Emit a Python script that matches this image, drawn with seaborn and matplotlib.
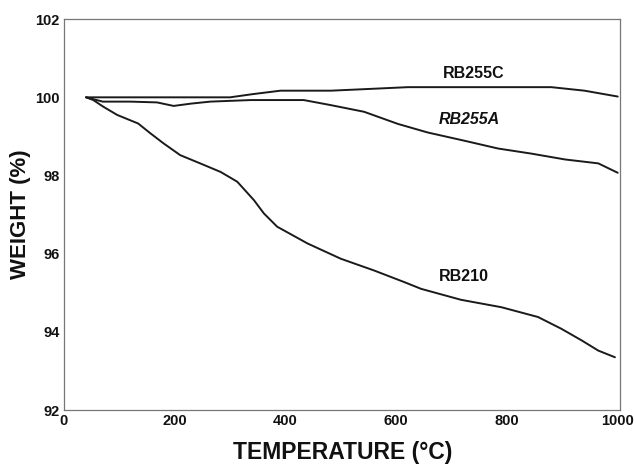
import matplotlib
matplotlib.use("Agg")
import matplotlib.pyplot as plt
from matplotlib.ticker import MultipleLocator
import seaborn as sns
import pandas as pd

# --- data ---
t_255c = [40, 100, 200, 300, 340, 391, 482, 560, 621, 700, 800, 880, 940, 1000]
w_255c = [100.0, 100.0, 100.0, 100.0, 100.08, 100.17, 100.17, 100.22, 100.26, 100.26, 100.26, 100.26, 100.17, 100.02]

t_255a = [40, 70, 120, 168, 198, 230, 264, 337, 433, 482, 542, 603, 657, 723, 784, 844, 905, 965, 1000]
w_255a = [100.0, 99.89, 99.89, 99.87, 99.78, 99.84, 99.89, 99.93, 99.93, 99.80, 99.63, 99.32, 99.10, 98.89, 98.69, 98.56, 98.41, 98.31, 98.07]

t_210 = [40, 53, 71, 96, 134, 156, 180, 210, 246, 283, 313, 343, 361, 385, 440, 500, 560, 615, 645,
         717, 790, 856, 898, 935, 965, 995]
w_210 = [100.0, 99.93, 99.76, 99.55, 99.33, 99.08, 98.82, 98.52, 98.31, 98.09, 97.84, 97.37, 97.03, 96.69,
         96.26, 95.87, 95.57, 95.27, 95.10, 94.82, 94.63, 94.38, 94.08, 93.78, 93.52, 93.35]

labels = ["RB255C", "RB255A", "RB210"]
label_pos_t = [739, 732, 723]
label_pos_w = [100.6, 99.42, 95.42]

x_ticks = [0, 200, 400, 600, 800, 1000]
y_ticks = [92, 94, 96, 98, 100, 102]

sns.set_style("white")
plt.rcParams["font.family"] = ["Liberation Sans", "DejaVu Sans"]

df = pd.concat([
    pd.DataFrame({"T": t_255c, "W": w_255c, "s": labels[0]}),
    pd.DataFrame({"T": t_255a, "W": w_255a, "s": labels[1]}),
    pd.DataFrame({"T": t_210, "W": w_210, "s": labels[2]}),
])

fig = plt.figure(figsize=(6.36, 4.67), dpi=100)
ax = fig.add_axes([0.1006, 0.122, 0.875, 0.837])
sns.lineplot(data=df, x="T", y="W", hue="s", palette=["#1a1a1a"] * 3,
             linewidth=1.4, legend=False, ax=ax, sort=False, estimator=None)

for lab, tx, wy in zip(labels, label_pos_t, label_pos_w):
    style = "italic" if lab == "RB255A" else "normal"
    ax.text(tx, wy, lab, ha="center", va="center", fontsize=11.5,
            fontweight="bold", style=style, color="#111111")

ax.set_xlim(0, 1005)
ax.set_ylim(92, 102)
ax.set_xticks(x_ticks)
ax.set_yticks(y_ticks)
ax.yaxis.set_minor_locator(MultipleLocator(1))
ax.tick_params(axis="both", which="major", direction="in", length=4, width=0.8,
               labelsize=10.5, color="#555555", labelcolor="#111111", pad=3)
ax.tick_params(axis="y", which="minor", direction="in", length=2.5, width=0.8, color="#555555")
for lbl in ax.get_xticklabels() + ax.get_yticklabels():
    lbl.set_fontweight("bold")
for sp in ax.spines.values():
    sp.set_color("#777777")
    sp.set_linewidth(0.9)

ax.set_xlabel("TEMPERATURE (°C)", fontsize=16.5, fontweight="bold", labelpad=9, color="#111111")
ax.set_ylabel("WEIGHT (%)", fontsize=16, fontweight="bold", labelpad=3, color="#111111")

fig.savefig("out.png", dpi=100)
